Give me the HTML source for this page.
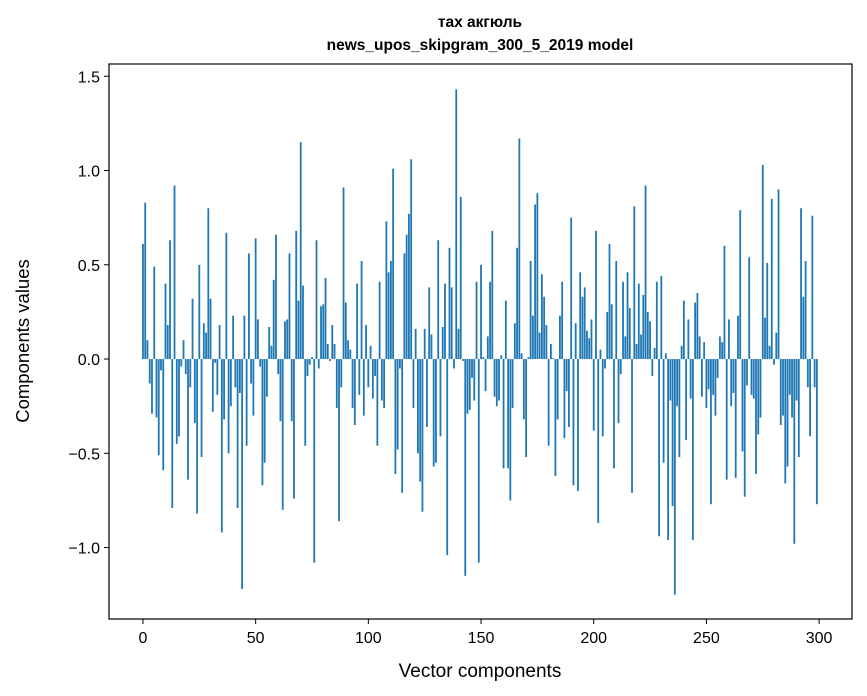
<!DOCTYPE html>
<html><head><meta charset="utf-8"><style>
html,body{margin:0;padding:0;background:#fff;}
svg{display:block;font-family:"Liberation Sans","DejaVu Sans",sans-serif;}
</style></head><body>
<svg id="chart" width="867" height="696" viewBox="0 0 867 696">
<rect x="0" y="0" width="867" height="696" fill="#fff"/>
<text x="480" y="27" text-anchor="middle" font-size="15.5" font-weight="bold">тах акгюль</text>
<text x="480" y="50" text-anchor="middle" font-size="15.5" font-weight="bold">news_upos_skipgram_300_5_2019 model</text>
<g id="bars"></g>
<g id="xticks"></g>
<g id="yticks"></g>
<rect x="109" y="64" width="743" height="555" fill="none" stroke="#000" stroke-width="1.2"/>
<text x="480" y="677" text-anchor="middle" font-size="19">Vector components</text>
<text transform="translate(29,341) rotate(-90)" text-anchor="middle" font-size="18.5">Components values</text>
</svg>
<script>
const values = [0.61,0.83,0.10,-0.13,-0.29,0.49,-0.31,-0.51,-0.06,-0.59,0.40,0.18,0.63,-0.79,0.92,-0.45,-0.41,-0.04,0.10,-0.08,-0.64,-0.15,0.32,-0.34,-0.82,0.50,-0.52,0.19,0.14,0.80,0.32,-0.28,-0.02,-0.19,0.18,-0.92,-0.32,0.67,-0.50,-0.25,0.23,-0.15,-0.79,-0.18,-1.22,0.23,-0.46,0.56,-0.13,
-0.30,0.64,0.21,-0.04,-0.67,-0.55,-0.20,0.17,0.07,0.42,0.66,-0.08,-0.33,-0.80,0.20,0.21,0.56,-0.33,-0.74,0.68,0.31,1.15,0.39,-0.46,-0.09,-0.03,0.01,-1.08,0.63,-0.05,0.28,0.29,0.43,0.08,-0.01,0.18,0.08,-0.26,-0.86,-0.15,0.91,0.30,0.10,0.05,-0.26,-0.35,0.40,-0.19,0.52,-0.30,
0.18,-0.15,0.07,-0.21,-0.09,-0.46,0.41,-0.22,-0.26,0.73,0.46,0.52,1.01,-0.61,-0.48,-0.05,-0.71,0.56,0.66,0.77,1.06,-0.26,0.16,-0.50,-0.65,-0.81,0.16,-0.36,0.38,0.13,-0.57,-0.55,0.63,-0.41,0.17,0.40,-1.04,0.59,0.38,-0.05,1.43,0.16,0.86,-0.01,-1.15,-0.29,-0.27,-0.10,-0.22,0.41,
-1.08,0.50,0.01,-0.17,0.12,0.41,0.68,-0.20,-0.25,-0.22,0.02,-0.58,0.31,-0.58,-0.75,-0.26,0.19,0.59,1.17,0.03,-0.32,-0.52,0.01,0.52,0.23,0.82,0.88,0.14,0.45,0.33,0.18,-0.46,0.08,0.005,-0.62,-0.32,0.23,0.41,-0.42,-0.17,-0.36,0.75,-0.67,0.19,-0.70,0.46,0.33,0.38,0.15,0.11,
0.21,-0.38,0.68,-0.87,0.05,-0.41,-0.05,0.25,0.61,0.29,-0.58,0.52,-0.34,-0.08,0.41,0.12,0.46,0.27,-0.71,0.81,0.08,0.40,0.13,0.34,0.92,0.25,0.20,-0.09,0.06,0.41,-0.94,0.44,-0.55,0.03,-0.96,-0.22,-0.78,-1.25,-0.25,-0.52,0.07,0.31,-0.43,0.21,-0.21,-0.96,0.30,0.35,0.12,-0.20,
0.09,-0.26,-0.16,-0.77,-0.19,-0.30,-0.10,0.12,0.09,0.60,-0.64,0.21,-0.25,-0.18,-0.63,0.23,0.79,-0.49,-0.73,-0.14,0.54,-0.19,-0.21,-0.61,-0.40,-0.31,1.03,0.22,0.51,0.07,0.85,-0.03,0.14,0.90,-0.35,-0.30,-0.66,-0.57,-0.19,-0.31,-0.98,-0.22,-0.52,0.80,0.33,0.52,-0.15,-0.41,0.76,-0.15,-0.77];
const xTickLabels = ["0","50","100","150","200","250","300"];
const xTickValues = [0,50,100,150,200,250,300];
const yTickLabels = ["1.5","1.0","0.5","0.0","\u22120.5","\u22121.0"];
const yTickValues = [1.5,1.0,0.5,0.0,-0.5,-1.0];

const NS = "http://www.w3.org/2000/svg";
const X0 = 109, X1 = 852, Y0 = 64, Y1 = 619;
const xMin = -15.07, xMax = 314.6, yMin = -1.379, yMax = 1.565;
function xs(v){ return X0 + (v - xMin) / (xMax - xMin) * (X1 - X0); }
function ys(v){ return Y1 - (v - yMin) / (yMax - yMin) * (Y1 - Y0); }

const gb = document.getElementById('bars');
values.forEach((v, i) => {
  const r = document.createElementNS(NS, 'rect');
  const xl = xs(i - 0.4), xr = xs(i + 0.4);
  const yt = ys(Math.max(v, 0)), yb = ys(Math.min(v, 0));
  r.setAttribute('x', xl);
  r.setAttribute('width', xr - xl);
  r.setAttribute('y', yt);
  r.setAttribute('height', Math.max(yb - yt, 0.3));
  r.setAttribute('fill', '#1f77b4');
  
  
  gb.appendChild(r);
});

const gx = document.getElementById('xticks');
xTickValues.forEach((v, i) => {
  const x = xs(v);
  const l = document.createElementNS(NS, 'line');
  l.setAttribute('x1', x); l.setAttribute('x2', x);
  l.setAttribute('y1', Y1); l.setAttribute('y2', Y1 + 5);
  l.setAttribute('stroke', '#000');
  
  
  gx.appendChild(l);
  const t = document.createElementNS(NS, 'text');
  t.setAttribute('x', x); t.setAttribute('y', Y1 + 24);
  t.setAttribute('text-anchor', 'middle');
  t.setAttribute('font-size', '16');
  
  
  t.textContent = xTickLabels[i];
  gx.appendChild(t);
});

const gy = document.getElementById('yticks');
yTickValues.forEach((v, i) => {
  const y = ys(v);
  const l = document.createElementNS(NS, 'line');
  l.setAttribute('x1', X0 - 5); l.setAttribute('x2', X0);
  l.setAttribute('y1', y); l.setAttribute('y2', y);
  l.setAttribute('stroke', '#000');
  
  
  gy.appendChild(l);
  const t = document.createElementNS(NS, 'text');
  t.setAttribute('x', X0 - 9); t.setAttribute('y', y + 6);
  t.setAttribute('text-anchor', 'end');
  t.setAttribute('font-size', '16');
  
  
  t.textContent = yTickLabels[i];
  gy.appendChild(t);
});
</script>
</body></html>
